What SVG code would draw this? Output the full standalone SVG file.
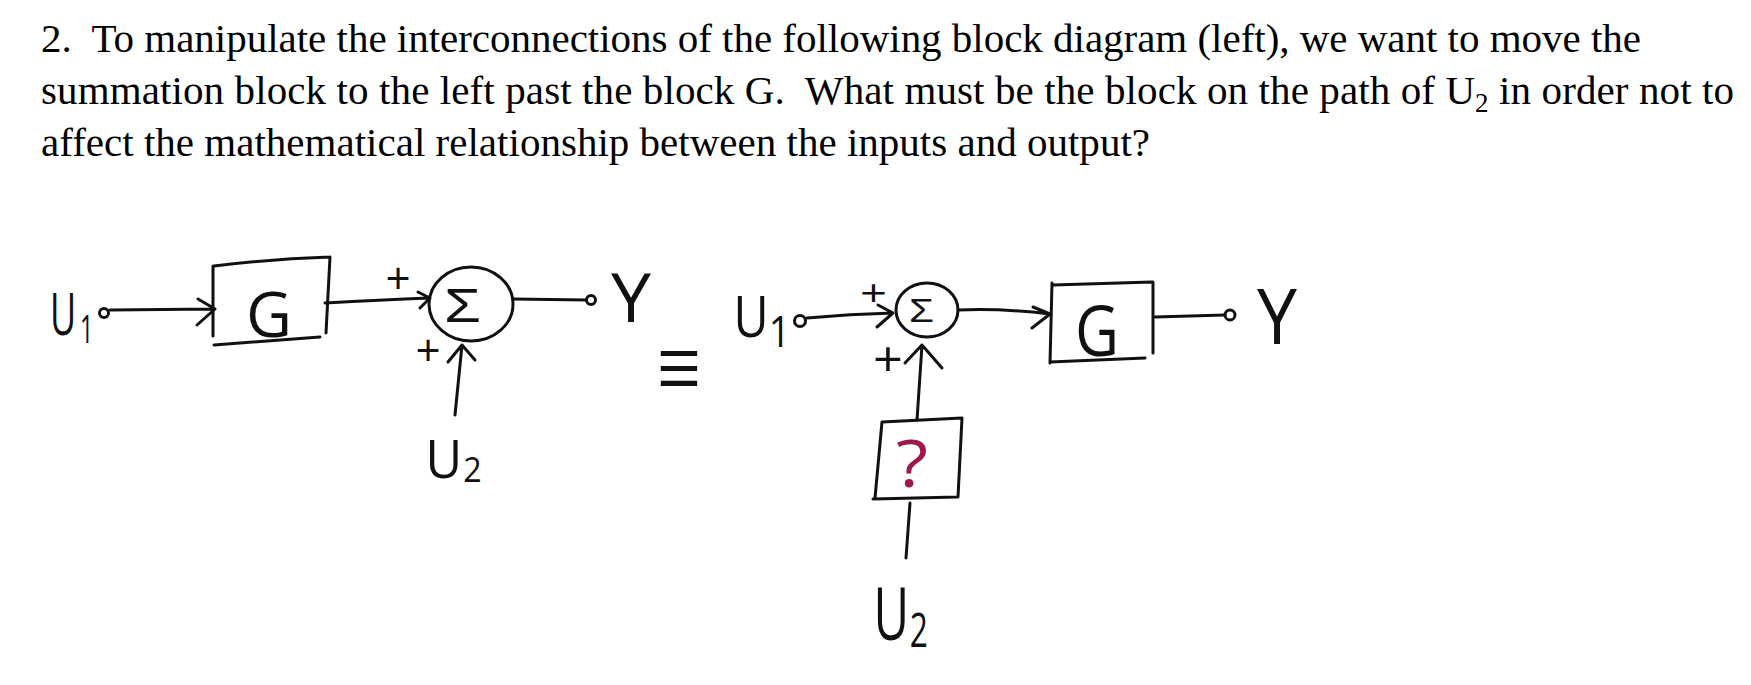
<svg xmlns="http://www.w3.org/2000/svg" width="1751" height="685" viewBox="0 0 1751 685">
<style>
.q{font-family:"Liberation Serif","Times New Roman",serif;font-size:41px;fill:#000}
.h{font-family:"Open Sans","DejaVu Sans",sans-serif;font-weight:400;fill:#111}
.g{font-family:"Liberation Sans","DejaVu Sans",sans-serif;font-weight:400;fill:#111}
.s{fill:none;stroke:#111;stroke-width:3;stroke-linecap:round;stroke-linejoin:round}
</style>
<rect width="1751" height="685" fill="#fff"/>
<g id="question">
<text class="q" x="41" y="52" textLength="1600" lengthAdjust="spacing" xml:space="preserve">2.  To manipulate the interconnections of the following block diagram (left), we want to move the</text>
<text class="q" x="41" y="104" textLength="1693" lengthAdjust="spacing" xml:space="preserve">summation block to the left past the block G.  What must be the block on the path of U<tspan font-size="27" dy="8">2</tspan><tspan dy="-8"> in order not to</tspan></text>
<text class="q" x="41" y="156" textLength="1109" lengthAdjust="spacing">affect the mathematical relationship between the inputs and output?</text>
</g>
<g id="connectors">
<path class="s" d="M110,310 L215,309 M198,299 L215,309 L197,325"/>
<path class="s" d="M325,303 Q380,300 430,298 M418,292 L430,298 L420,308"/>
<path class="s" d="M513,299 L586,300"/>
<path class="s" d="M455,415 L462,345 M448,362 L462,345 L475,360"/>
<path class="s" d="M807,318 Q850,314 893,313 M878,305 L893,313 L877,327"/>
<path class="s" d="M958,310 Q1000,308 1050,314 M1033,307 L1050,314 L1032,328"/>
<path class="s" d="M917,420 L922,345 M905,363 L922,345 L942,368"/>
<path class="s" d="M1155,317 L1225,315"/>
<path class="s" d="M910,503 L906,558"/>
</g>
<g id="U1-left">
<circle class="s" cx="104" cy="313" r="4.5"/>
<text class="h" font-size="58" transform="translate(50,335) scale(0.62,1)">U<tspan font-size="38" dx="6" dy="8">1</tspan></text>
</g>
<g id="G-left">
<path class="s" d="M214,266 Q270,259 330,257 M330,257 L326,333 M213,266 L213,336 M214,345 L320,337"/>
<text class="h" x="246" y="337" font-size="63" textLength="46" lengthAdjust="spacingAndGlyphs">G</text>
</g>
<g id="sum-left">
<ellipse class="s" cx="471" cy="304" rx="42" ry="37"/>
<text class="g" x="444" y="322" font-size="48" textLength="37" lengthAdjust="spacingAndGlyphs">Σ</text>
<text class="h" x="398" y="294" font-size="44" text-anchor="middle">+</text>
<text class="h" x="428" y="366" font-size="44" text-anchor="middle">+</text>
</g>
<g id="Y-left">
<circle class="s" cx="591" cy="300" r="4.5"/>
<text class="h" x="611" y="322" font-size="68" textLength="40" lengthAdjust="spacingAndGlyphs">Y</text>
</g>
<g id="U2-left">
<text class="h" font-size="53" transform="translate(425.5,478) scale(0.95,1)">U<tspan font-size="34" dx="1" dy="4">2</tspan></text>
</g>
<g id="equiv">
<text x="0" y="0" font-family="Liberation Serif,serif" font-size="80" fill="#111" transform="translate(657,403) scale(1,1.3)" textLength="44" lengthAdjust="spacingAndGlyphs">≡</text>
</g>
<g id="U1-right">
<circle class="s" cx="800" cy="321" r="5.5"/>
<text class="h" font-size="56" transform="translate(733.6,337) scale(0.86,1)">U<tspan font-size="44" dx="0" dy="10">1</tspan></text>
</g>
<g id="sum-right">
<ellipse class="s" cx="927" cy="310" rx="31" ry="27"/>
<text class="g" x="909" y="322" font-size="34" textLength="25" lengthAdjust="spacingAndGlyphs">Σ</text>
<text class="h" x="860" y="306" font-size="36" textLength="27" lengthAdjust="spacingAndGlyphs">+</text>
<text class="h" x="873" y="377" font-size="50" textLength="30" lengthAdjust="spacingAndGlyphs">+</text>
</g>
<g id="G-right">
<path class="s" d="M1053,285 L1152,282 M1153,282 L1153,353 M1052,283 L1050,363 M1050,362 L1145,358"/>
<text class="h" x="1075" y="356" font-size="70" textLength="44" lengthAdjust="spacingAndGlyphs">G</text>
</g>
<g id="Y-right">
<circle class="s" cx="1230" cy="315" r="5"/>
<text class="h" x="1257" y="344" font-size="76" textLength="40" lengthAdjust="spacingAndGlyphs">Y</text>
</g>
<g id="unknown-block">
<path class="s" d="M882,422 L962,418 M882,422 L875,498 M962,418 L958,497 M873,499 L957,497"/>
<text class="h" x="896" y="487" font-size="66" style="fill:#a01850" textLength="32" lengthAdjust="spacingAndGlyphs">?</text>
</g>
<g id="U2-right">
<text class="h" font-size="74" transform="translate(873.6,640) scale(0.66,1)">U<tspan font-size="48" dx="1" dy="7">2</tspan></text>
</g>
</svg>
